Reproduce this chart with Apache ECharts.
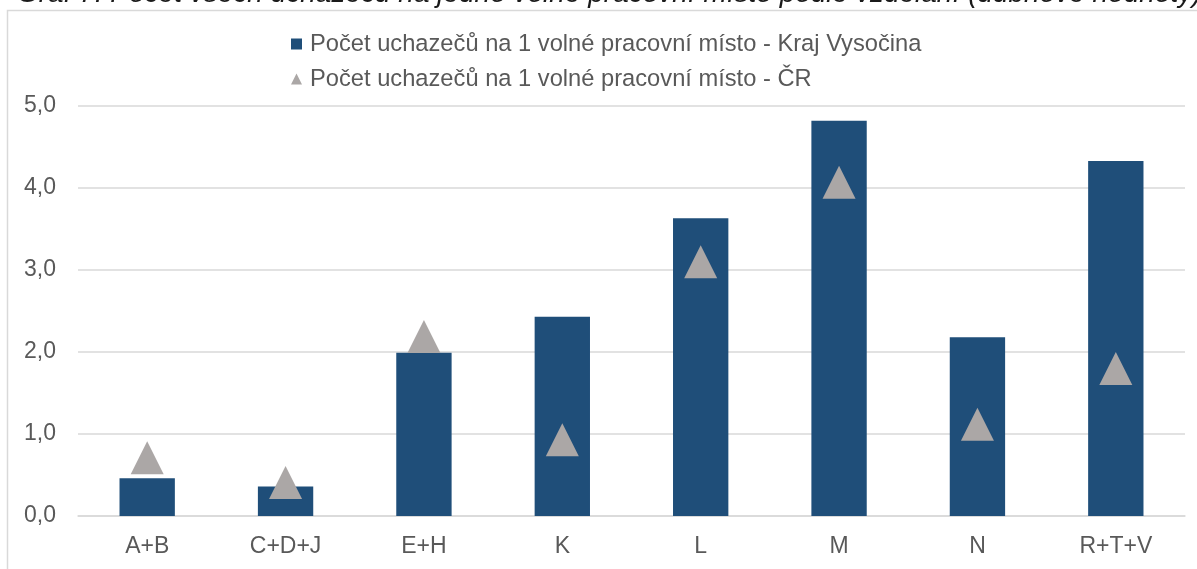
<!DOCTYPE html>
<html>
<head>
<meta charset="utf-8">
<script src="https://cdn.jsdelivr.net/npm/echarts@6/dist/echarts.min.js"></script>
<style>html,body{margin:0;padding:0;background:#fff}#c{width:1197px;height:569px}</style>
</head>
<body>
<div id="c"></div>
<script>
const titleText = 'Graf 7: Počet všech uchazečů na jedno volné pracovní místo podle vzdělání (dubnové hodnoty)';
const categories = ['A+B', 'C+D+J', 'E+H', 'K', 'L', 'M', 'N', 'R+T+V'];
const krajValues = [0.46, 0.36, 1.99, 2.43, 3.63, 4.82, 2.18, 4.33];
const crValues = [0.71, 0.41, 2.19, 0.93, 3.10, 4.07, 1.12, 1.80];
const seriesNames = ['Počet uchazečů na 1 volné pracovní místo - Kraj Vysočina', 'Počet uchazečů na 1 volné pracovní místo - ČR'];

const font = '"Liberation Sans", Arial, sans-serif';
const chart = echarts.init(document.getElementById('c'), null, {renderer: 'canvas'});
chart.setOption({
  animation: false,
  backgroundColor: '#ffffff',
  textStyle: {fontFamily: font},
  graphic: [
    {type: 'text', z: 0, left: 17, top: -20, style: {text: titleText, font: 'italic 28px ' + font, fill: '#1a1a1a'}},
    {type: 'rect', z: 0, shape: {x: 7.5, y: 10.5, width: 1300, height: 700}, style: {fill: '#ffffff', stroke: '#d9d9d9', lineWidth: 1.5}}
  ],
  legend: {
    orient: 'vertical', left: 286, top: 27, itemGap: 11,
    itemWidth: 11, itemHeight: 11,
    textStyle: {fontSize: 23.7, color: '#595959', fontFamily: font, lineHeight: 24, padding: [0, 0, 0, 3]},
    data: [{name: seriesNames[0], icon: 'rect'}, {name: seriesNames[1], icon: 'triangle'}]
  },
  grid: {left: 78, right: 12, top: 106, bottom: 53},
  xAxis: {
    type: 'category', data: categories,
    axisLine: {lineStyle: {color: '#d9d9d9', width: 1.5}},
    axisTick: {show: false},
    axisLabel: {fontSize: 23, color: '#595959', margin: 19, fontFamily: font}
  },
  yAxis: {
    type: 'value', min: 0, max: 5, interval: 1,
    axisLine: {show: false}, axisTick: {show: false},
    splitLine: {lineStyle: {color: '#d9d9d9', width: 1.5}},
    axisLabel: {fontSize: 23, color: '#595959', margin: 22, fontFamily: font,
      formatter: v => v.toFixed(1).replace('.', ',')}
  },
  series: [
    {name: seriesNames[0], type: 'bar', data: krajValues, barWidth: '40%',
      itemStyle: {color: '#1f4e79'}},
    {name: seriesNames[1], type: 'scatter', data: crValues, symbol: 'triangle', symbolSize: [33, 33],
      itemStyle: {color: '#aba7a6', opacity: 1}, z: 3}
  ]
});
</script>
</body>
</html>
